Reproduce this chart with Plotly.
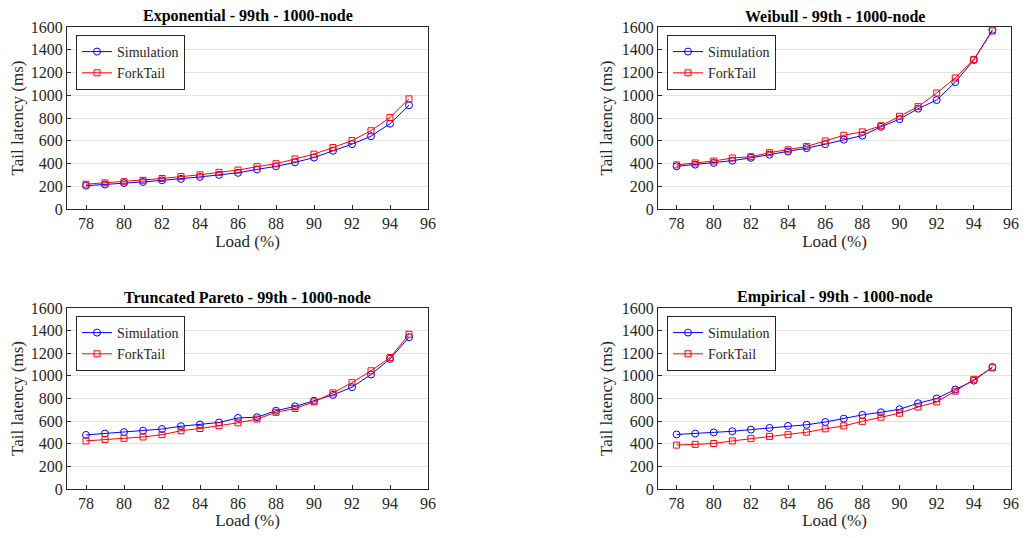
import plotly.graph_objects as go

load = [78, 79, 80, 81, 82, 83, 84, 85, 86, 87, 88, 89, 90, 91, 92, 93, 94, 95]

titles = ["Exponential - 99th - 1000-node", "Weibull - 99th - 1000-node",
          "Truncated Pareto - 99th - 1000-node", "Empirical - 99th - 1000-node"]

exp_sim = [205, 215, 228, 238, 252, 265, 282, 300, 318, 348, 375, 410, 452, 512, 570, 640, 750, 912]
exp_fork = [218, 230, 240, 252, 268, 285, 300, 322, 342, 372, 398, 440, 482, 540, 602, 688, 805, 968]

wei_sim = [375, 390, 405, 425, 450, 478, 505, 535, 570, 610, 645, 722, 790, 882, 958, 1115, 1310, 1575]
wei_fork = [388, 405, 422, 448, 460, 495, 520, 550, 598, 648, 678, 732, 815, 900, 1020, 1152, 1315, 1565]

par_sim = [478, 490, 503, 515, 530, 555, 570, 588, 628, 635, 692, 730, 780, 832, 900, 1012, 1150, 1342]
par_fork = [425, 438, 448, 460, 480, 515, 535, 560, 585, 618, 678, 712, 770, 850, 940, 1045, 1162, 1368]

emp_sim = [482, 490, 500, 510, 525, 540, 558, 568, 592, 622, 655, 678, 705, 758, 800, 880, 958, 1078]
emp_fork = [388, 395, 402, 425, 445, 465, 480, 502, 532, 558, 598, 635, 670, 725, 770, 865, 970, 1072]

series = [(exp_sim, exp_fork), (wei_sim, wei_fork), (par_sim, par_fork), (emp_sim, emp_fork)]

x_ticks = [78, 80, 82, 84, 86, 88, 90, 92, 94, 96]
y_ticks = [0, 200, 400, 600, 800, 1000, 1200, 1400, 1600]

# the page body adds an 8px margin on every side, so the figure is drawn smaller
W, H = 1013, 522
FONT = "Liberation Serif"

# pixel boxes of plot areas inside the figure: (left, right, top, bottom)
boxes = [(59, 420, 19, 201), (650, 1003, 19, 201), (59, 420, 300, 481), (650, 1003, 300, 481)]

fig = go.Figure()
layout = dict(
    width=W, height=H, margin=dict(l=0, r=0, t=0, b=0, autoexpand=False),
    paper_bgcolor="white", plot_bgcolor="white",
    font=dict(family=FONT, size=15, color="#262626"),
    showlegend=True,
)
annotations = []
for i, ((l, r, t, b), (sim, fork), title) in enumerate(zip(boxes, series, titles)):
    n = "" if i == 0 else str(i + 1)
    xa = "x" + n
    ya = "y" + n
    leg = "legend" + n
    fig.add_trace(go.Scatter(x=load, y=sim, name="Simulation", mode="lines+markers",
                             line=dict(color="#0000ff", width=1),
                             marker=dict(symbol="circle-open", size=7, color="#0000ff", line=dict(width=1)),
                             xaxis=xa, yaxis=ya, legend=leg))
    fig.add_trace(go.Scatter(x=load, y=fork, name="ForkTail", mode="lines+markers",
                             line=dict(color="#ff0000", width=1),
                             marker=dict(symbol="square-open", size=6, color="#ff0000", line=dict(width=1)),
                             xaxis=xa, yaxis=ya, legend=leg))
    axcommon = dict(showline=True, linecolor="#262626", linewidth=1, mirror=True,
                    ticks="inside", ticklen=4, tickcolor="#262626", automargin=False,
                    tickfont=dict(family=FONT, size=16, color="#262626"), zeroline=False)
    layout["xaxis" + n] = dict(domain=[l / W, r / W], range=[77, 96], tickvals=x_ticks,
                               showgrid=False, anchor=ya,
                               title=dict(text="Load (%)", font=dict(family=FONT, size=17), standoff=2),
                               **axcommon)
    layout["yaxis" + n] = dict(domain=[1 - b / H, 1 - t / H], range=[0, 1600], tickvals=y_ticks,
                               showgrid=True, gridcolor="#e3e3e3", gridwidth=1, anchor=xa,
                               title=dict(text="Tail latency (ms)", font=dict(family=FONT, size=17), standoff=4),
                               **axcommon)
    layout[leg] = dict(x=(l + 9) / W, y=1 - (t + 8) / H, xanchor="left", yanchor="top",
                       bgcolor="white", bordercolor="#262626", borderwidth=1,
                       font=dict(family=FONT, size=14, color="#262626"),
                       tracegroupgap=0, itemwidth=30)
    annotations.append(dict(text="<b>" + title + "</b>", x=(l + r) / 2 / W, y=1 - t / H,
                            xref="paper", yref="paper", xanchor="center", yanchor="bottom",
                            showarrow=False, font=dict(family=FONT, size=16, color="black")))
layout["annotations"] = annotations
fig.update_layout(**layout)
fig.write_html("out.html")
